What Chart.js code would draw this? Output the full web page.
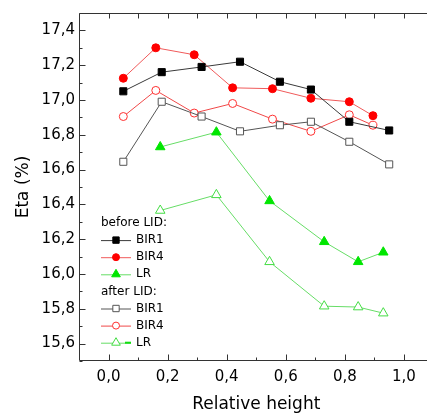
<!DOCTYPE html>
<html>
<head>
<meta charset="utf-8">
<script src="https://cdn.jsdelivr.net/npm/chart.js@4.4.1/dist/chart.umd.min.js"></script>
<style>
html, body { margin: 0; padding: 0; background: #fff; overflow: hidden; }
#chart { display: block; }
</style>
</head>
<body>
<canvas id="chart" width="445" height="419"></canvas>
<script>
// --- Datos ---
const xBIR1 = [0.05, 0.18, 0.315, 0.445, 0.58, 0.685, 0.815, 0.95];
const xBIR4 = [0.05, 0.16, 0.29, 0.42, 0.555, 0.685, 0.815, 0.895];
const xLR   = [0.175, 0.365, 0.545, 0.73, 0.845, 0.93];

const bir1Before = [17.05, 17.16, 17.19, 17.22, 17.105, 17.06, 16.875, 16.825];
const bir4Before = [17.125, 17.30, 17.26, 17.07, 17.065, 17.01, 16.99, 16.91];
const lrBefore   = [16.73, 16.815, 16.42, 16.185, 16.07, 16.125];
const bir1After  = [16.645, 16.99, 16.905, 16.82, 16.855, 16.875, 16.76, 16.63];
const bir4After  = [16.905, 17.055, 16.925, 16.98, 16.89, 16.82, 16.915, 16.855];
const lrAfter    = [16.365, 16.455, 16.07, 15.815, 15.81, 15.775];

const xTicks = [0, 0.2, 0.4, 0.6, 0.8, 1.0];
const yTicks = [15.6, 15.8, 16.0, 16.2, 16.4, 16.6, 16.8, 17.0, 17.2, 17.4];

const FONT = '"DejaVu Sans", sans-serif';

function pts(xs, ys) {
    return ys.map((v, i) => ({ x: xs[i], y: v }));
}
function fmt(v) {
    return v.toFixed(1).replace('.', ',');
}

function serie(label, xs, ys, line, mark, fill, style, radius) {
    return {
        label: label,
        data: pts(xs, ys),
        borderColor: line,
        borderWidth: 1,
        pointStyle: style,
        pointRadius: radius,
        pointBorderColor: mark,
        pointBackgroundColor: fill,
        pointBorderWidth: 1,
        fill: false,
        tension: 0
    };
}

// --- Marco y marcas hacia dentro ---
const frameTicks = {
    id: 'frameTicks',
    beforeDatasetsDraw(chart) {
        const { ctx, chartArea: a, scales: { x, y } } = chart;
        const L = Math.round(a.left) + 0.5, B = Math.round(a.bottom) - 0.5, T = Math.round(a.top) + 0.5;
        ctx.save();
        ctx.strokeStyle = '#333';
        ctx.lineWidth = 1;
        ctx.beginPath();
        ctx.moveTo(L, T); ctx.lineTo(L, B);
        ctx.moveTo(L, B); ctx.lineTo(a.right, B);
        ctx.moveTo(L, T); ctx.lineTo(a.right, T);
        for (let k = 0; k <= 11; k++) {
            const px = Math.round(x.getPixelForValue(k / 10)) + 0.5;
            const len = k % 2 === 0 ? 6 : 3;
            ctx.moveTo(px, B); ctx.lineTo(px, B - len);
            ctx.moveTo(px, T); ctx.lineTo(px, T + 5);
        }
        for (let k = 155; k <= 175; k++) {
            const py = Math.round(y.getPixelForValue(k / 10)) + 0.5;
            const len = k % 2 === 0 ? 6 : 3;
            ctx.moveTo(L, py); ctx.lineTo(L + len, py);
        }
        ctx.stroke();
        ctx.restore();
    }
};

// --- Leyenda con encabezados ---
const lidLegend = {
    id: 'lidLegend',
    afterDatasetsDraw(chart) {
        const ctx = chart.ctx;
        const x0 = 101, step = 17.1;
        let yy = 223;
        ctx.save();
        ctx.font = '12px ' + FONT;
        ctx.textBaseline = 'middle';
        chart.data.datasets.forEach((ds, i) => {
            if (i === 0 || i === 3) {
                ctx.fillStyle = '#000';
                ctx.fillText(i === 0 ? 'before LID:' : 'after LID:', x0, yy);
                yy += step;
            }
            ctx.strokeStyle = ds.borderColor;
            ctx.lineWidth = 1;
            ctx.beginPath();
            ctx.moveTo(x0, yy + 0.5); ctx.lineTo(x0 + 30, yy + 0.5);
            ctx.stroke();
            ctx.fillStyle = ds.pointBackgroundColor;
            ctx.strokeStyle = ds.pointBorderColor;
            Chart.helpers.drawPoint(ctx, { pointStyle: ds.pointStyle, radius: ds.pointRadius - 0.5, borderWidth: 1, rotation: 0 }, x0 + 15, yy);
            if (i === 5) {
                // trazo verde corto que aparece en el original
                ctx.strokeStyle = '#11dd11';
                ctx.lineWidth = 2;
                ctx.beginPath();
                ctx.moveTo(x0 + 24, yy); ctx.lineTo(x0 + 30, yy);
                ctx.stroke();
            }
            ctx.fillStyle = '#000';
            ctx.fillText(ds.label, x0 + 35, yy);
            yy += step;
        });
        ctx.restore();
    }
};

new Chart(document.getElementById('chart'), {
    type: 'line',
    data: {
        datasets: [
            serie('BIR1', xBIR1, bir1Before, '#3a3a3a', '#000000', '#000000', 'rect', 5),
            serie('BIR4', xBIR4, bir4Before, '#f05a5a', '#ff0000', '#ff0000', 'circle', 4),
            serie('LR', xLR, lrBefore, '#66dd66', '#00e600', '#00e600', 'triangle', 5.5),
            serie('BIR1', xBIR1, bir1After, '#555555', '#555555', '#ffffff', 'rect', 5),
            serie('BIR4', xBIR4, bir4After, '#f04848', '#ff3030', '#ffffff', 'circle', 4),
            serie('LR', xLR, lrAfter, '#66dd66', '#44dd44', '#ffffff', 'triangle', 5.5)
        ]
    },
    options: {
        responsive: false,
        animation: false,
        devicePixelRatio: 1,
        layout: { padding: { top: 4, right: 11.5, left: 0, bottom: 0 } },
        plugins: { legend: { display: false }, tooltip: { enabled: false } },
        scales: {
            x: {
                type: 'linear',
                min: -0.1,
                max: 1.1,
                grid: { display: false, drawTicks: false },
                border: { display: false },
                afterBuildTicks: s => { s.ticks = xTicks.map(v => ({ value: v })); },
                afterFit: s => { s.height = 58; },
                ticks: { padding: 7, color: '#000', font: { family: FONT, size: 15 }, maxRotation: 0, callback: v => fmt(v) },
                title: { display: true, text: 'Relative height', color: '#000', font: { family: FONT, size: 17 }, padding: { top: 0, bottom: 4 } }
            },
            y: {
                type: 'linear',
                min: 15.5,
                max: 17.5,
                grid: { display: false, drawTicks: false },
                border: { display: false },
                afterBuildTicks: s => { s.ticks = yTicks.map(v => ({ value: v })); },
                afterFit: s => { s.width = 79; },
                ticks: { padding: 4, color: '#000', font: { family: FONT, size: 15 }, callback: v => fmt(v) },
                title: { display: true, text: 'Eta (%)', color: '#000', font: { family: FONT, size: 17 }, padding: { top: 13, bottom: 0 } }
            }
        }
    },
    plugins: [frameTicks, lidLegend]
});
</script>
</body>
</html>
